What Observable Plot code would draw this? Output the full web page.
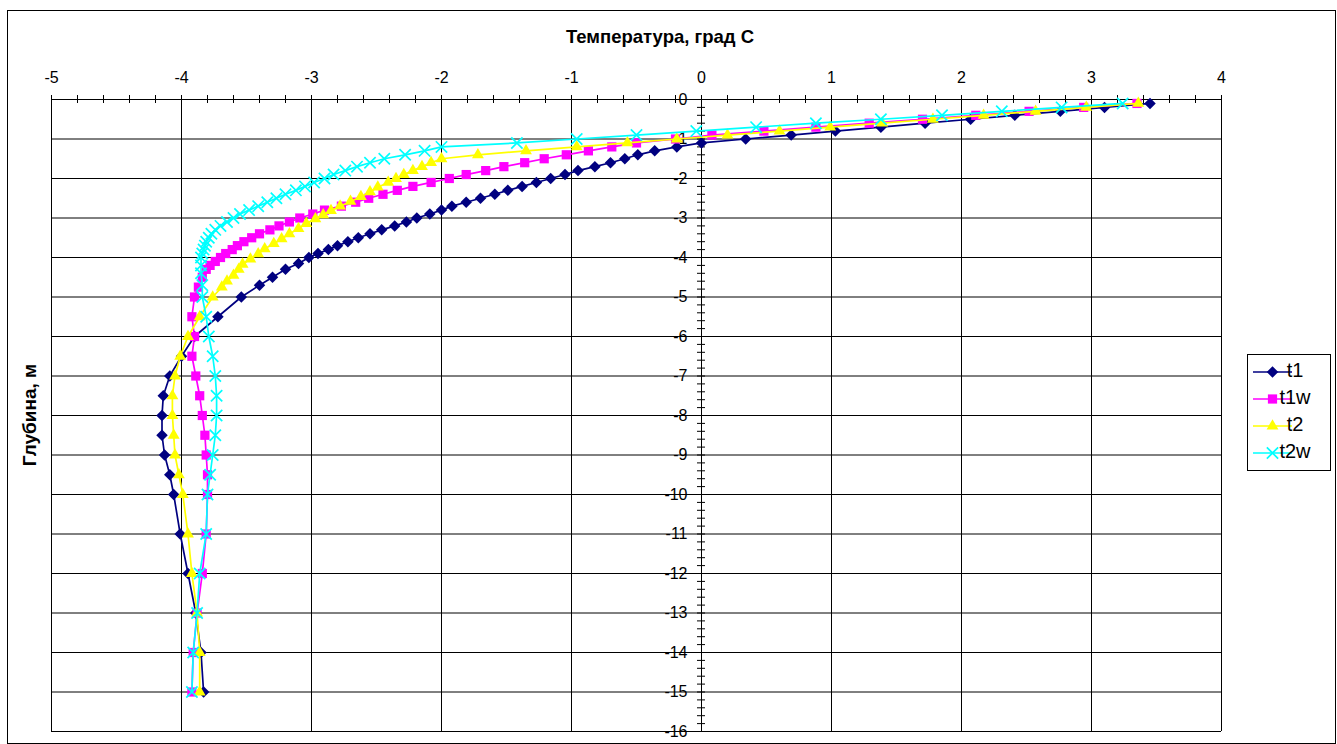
<!DOCTYPE html>
<html><head><meta charset="utf-8">
<script src="https://cdn.jsdelivr.net/npm/d3@7"></script>
<script src="https://cdn.jsdelivr.net/npm/@observablehq/plot@0.6"></script>
<style>
body{margin:0;background:#fff;}
#chart{position:relative;width:1337px;height:744px;}
</style>
</head><body><div id="chart"></div>
<script>
// ---- data ----
const xTickLabels = [-5,-4,-3,-2,-1,0,1,2,3,4];
const yTickLabels = [0,-1,-2,-3,-4,-5,-6,-7,-8,-9,-10,-11,-12,-13,-14,-15,-16];
const seriesNames = ["t1","t1w","t2","t2w"];

const t1Depth = [-0.1,-0.2,-0.3,-0.4,-0.5,-0.6,-0.7,-0.8,-0.9,-1.0,-1.1,-1.2,-1.3,-1.4,-1.5,-1.6,-1.7,-1.8,-1.9,-2.0,
  -2.1,-2.2,-2.3,-2.4,-2.5,-2.6,-2.7,-2.8,-2.9,-3.0,-3.1,-3.2,-3.3,-3.4,-3.5,-3.6,-3.7,-3.8,-3.9,-4.0,
  -4.15,-4.3,-4.5,-4.7,-5,-5.5,-6,-6.5,-7,-7.5,-8,-8.5,-9,-9.5,-10,-11,-12,-13,-14,-15];
const t1Temp = [3.45,3.10,2.76,2.41,2.07,1.72,1.38,1.03,0.69,0.34,0.00,-0.19,-0.36,-0.49,-0.59,-0.70,-0.82,-0.95,-1.05,-1.16,
  -1.27,-1.38,-1.49,-1.59,-1.70,-1.81,-1.92,-2.00,-2.09,-2.19,-2.27,-2.36,-2.46,-2.55,-2.64,-2.72,-2.80,-2.87,-2.95,-3.02,
  -3.10,-3.20,-3.30,-3.40,-3.54,-3.72,-3.90,-4.00,-4.09,-4.14,-4.15,-4.15,-4.13,-4.09,-4.06,-4.01,-3.95,-3.89,-3.85,-3.83];

const t1wDepth = [-0.1,-0.2,-0.3,-0.4,-0.5,-0.6,-0.7,-0.8,-0.9,-1.0,-1.1,-1.2,-1.3,-1.4,-1.5,-1.6,-1.7,-1.8,-1.9,-2.0,
  -2.1,-2.2,-2.3,-2.4,-2.5,-2.6,-2.7,-2.8,-2.9,-3.0,-3.1,-3.2,-3.3,-3.4,-3.5,-3.6,-3.7,-3.8,-3.9,-4.0,-4.1,-4.2,-4.3,
  -4.5,-4.75,-5,-5.5,-6,-6.5,-7,-7.5,-8,-8.5,-9,-9.5,-10,-11,-12,-13,-14,-15];
const t1wTemp = [3.35,2.94,2.52,2.11,1.70,1.29,0.88,0.48,0.08,-0.20,-0.50,-0.69,-0.87,-1.04,-1.21,-1.36,-1.52,-1.66,-1.81,-1.94,
  -2.08,-2.22,-2.34,-2.45,-2.56,-2.66,-2.77,-2.90,-2.99,-3.09,-3.17,-3.25,-3.32,-3.40,-3.46,-3.52,-3.57,-3.61,-3.66,-3.70,-3.74,-3.78,-3.81,
  -3.84,-3.87,-3.90,-3.92,-3.90,-3.92,-3.89,-3.86,-3.84,-3.82,-3.81,-3.80,-3.80,-3.81,-3.84,-3.88,-3.91,-3.92];

const t2Depth = [-0.1,-0.2,-0.3,-0.4,-0.5,-0.6,-0.7,-0.8,-0.9,-1.0,-1.1,-1.2,-1.3,-1.4,-1.5,-1.6,-1.7,-1.8,-1.9,-2.0,-2.1,
  -2.22,-2.34,-2.46,-2.58,-2.70,-2.81,-2.92,-3.02,-3.14,-3.27,-3.40,-3.53,-3.65,-3.78,-3.91,-4.04,-4.17,-4.3,-4.45,-4.6,-4.75,
  -5,-5.5,-6,-6.5,-7,-7.5,-8,-8.5,-9,-9.5,-10,-11,-12,-13,-14,-15];
const t2Temp = [3.36,2.96,2.57,2.17,1.78,1.39,0.99,0.60,0.20,-0.19,-0.57,-0.96,-1.35,-1.72,-2.00,-2.08,-2.15,-2.22,-2.29,-2.35,-2.41,
  -2.49,-2.55,-2.62,-2.70,-2.78,-2.85,-2.91,-2.97,-3.04,-3.10,-3.17,-3.23,-3.29,-3.36,-3.41,-3.47,-3.53,-3.56,-3.60,-3.65,-3.69,
  -3.76,-3.86,-3.95,-4.01,-4.05,-4.07,-4.07,-4.06,-4.05,-4.02,-3.99,-3.95,-3.92,-3.88,-3.86,-3.86];

const t2wDepth = [-0.1,-0.2,-0.3,-0.4,-0.5,-0.6,-0.7,-0.8,-0.9,-1.0,-1.1,-1.2,-1.3,-1.4,-1.5,-1.6,-1.7,-1.8,-1.9,-2.0,
  -2.1,-2.2,-2.3,-2.4,-2.5,-2.6,-2.7,-2.8,-2.9,-3.0,-3.1,-3.2,-3.3,-3.4,-3.5,-3.6,-3.7,-3.8,-3.9,-4.0,
  -4.2,-4.4,-4.7,-5,-5.5,-6,-6.5,-7,-7.5,-8,-8.5,-9,-9.5,-10,-11,-12,-13,-14,-15];
const t2wTemp = [3.24,2.77,2.31,1.85,1.38,0.88,0.42,-0.04,-0.50,-0.96,-1.42,-2.00,-2.13,-2.28,-2.44,-2.55,-2.65,-2.74,-2.83,-2.90,
  -2.98,-3.05,-3.12,-3.20,-3.27,-3.34,-3.41,-3.48,-3.55,-3.60,-3.65,-3.70,-3.74,-3.77,-3.79,-3.81,-3.82,-3.83,-3.84,-3.85,
  -3.85,-3.85,-3.84,-3.84,-3.81,-3.79,-3.76,-3.74,-3.73,-3.73,-3.74,-3.76,-3.78,-3.80,-3.81,-3.86,-3.88,-3.91,-3.92];

const titleText = "Температура, град С";
const yTitleText = "Глубина, м";

// ---- styling ----
const FONT = "'Liberation Sans', Arial, Helvetica, sans-serif";
const styles = [
  {name:"t1",  depth:t1Depth,  temp:t1Temp,  color:"#000080", symbol:"diamond2", r:5.2, filled:true},
  {name:"t1w", depth:t1wDepth, temp:t1wTemp, color:"#FF00FF", symbol:"square",   r:5.2, filled:true},
  {name:"t2",  depth:t2Depth,  temp:t2Temp,  color:"#FFFF00", symbol:"triangle", r:4.4, filled:true},
  {name:"t2w", depth:t2wDepth, temp:t2wTemp, color:"#00FFFF", symbol:"times",    r:5.2, filled:false}
];

const W = 1337, H = 744;
const mL = 51, mR = W - 1221, mT = 99, mB = H - 731;

const xMinor = d3.range(-25, 21).map(i => +(i * 0.2).toFixed(1));
const yMinor = d3.range(-80, 1).map(i => +(i * 0.2).toFixed(1));

const marks = [
  Plot.ruleX(xTickLabels, {x: d => d, stroke: "#000", strokeWidth: 1}),
  Plot.ruleY(yTickLabels, {y: d => d, stroke: "#000", strokeWidth: 1}),
  // axis crossing ticks
  Plot.ruleX(xMinor, {x: d => d, y1: () => 0, y2: () => 0, insetTop: -4, insetBottom: -4, stroke: "#000"}),
  Plot.ruleY(yMinor, {y: d => d, x1: () => 0, x2: () => 0, insetLeft: -4, insetRight: -4, stroke: "#000"}),
  // tick labels
  Plot.text(xTickLabels, {x: d => d, frameAnchor: "top", dy: -28, text: d => String(d), fontSize: 16, fill: "#000"}),
  Plot.text(yTickLabels, {x: () => 0, y: d => d, dx: -14, textAnchor: "end", text: d => String(d), fontSize: 16, fill: "#000"})
];

for (const s of styles) {
  const rows = s.depth.map((d, i) => ({depth: d, temp: s.temp[i]}));
  marks.push(Plot.line(rows, {x: "temp", y: "depth", stroke: s.color, strokeWidth: 1.7}));
  if (s.filled) {
    marks.push(Plot.dot(rows, {x: "temp", y: "depth", symbol: () => s.symbol, r: s.r, fill: s.color, stroke: "none"}));
  } else {
    marks.push(Plot.dot(rows, {x: "temp", y: "depth", symbol: () => s.symbol, r: s.r, fill: "none", stroke: s.color, strokeWidth: 1.7}));
  }
}

const svg = Plot.plot({
  width: W, height: H,
  marginLeft: mL, marginRight: mR, marginTop: mT, marginBottom: mB,
  x: {domain: [-5, 4], axis: null},
  y: {domain: [-16, 0], axis: null},
  symbol: {type: "identity"},
  style: {fontFamily: FONT, fontSize: "16px", background: "#fff", overflow: "visible"},
  marks
});

const sel = d3.select(svg);
// outer border
sel.append("rect").attr("x", 7.5).attr("y", 10.5).attr("width", 1328).attr("height", 733)
  .attr("fill", "none").attr("stroke", "#000").attr("stroke-width", 1);
// title
sel.append("text").attr("x", 660).attr("y", 38).attr("text-anchor", "middle").attr("dominant-baseline", "middle")
  .attr("font-family", FONT).attr("font-weight", "bold").attr("font-size", 18.5).text(titleText);
// y title
sel.append("text").attr("transform", "translate(31,415) rotate(-90)").attr("text-anchor", "middle")
  .attr("dominant-baseline", "middle").attr("font-family", FONT).attr("font-weight", "bold").attr("font-size", 19).text(yTitleText);

// legend
const lg = sel.append("g");
lg.append("rect").attr("x", 1247.5).attr("y", 354.5).attr("width", 83).attr("height", 116)
  .attr("fill", "#fff").attr("stroke", "#000");
const symMap = {diamond2: d3.symbolDiamond2, square: d3.symbolSquare, triangle: d3.symbolTriangle, times: d3.symbolTimes};
styles.forEach((s, i) => {
  const y = 372 + i * 27;
  lg.append("line").attr("x1", 1253).attr("x2", 1292).attr("y1", y).attr("y2", y)
    .attr("stroke", s.color).attr("stroke-width", 1.7);
  const p = lg.append("path").attr("transform", `translate(1272.5,${y})`)
    .attr("d", d3.symbol(symMap[s.symbol], Math.PI * s.r * s.r)());
  if (s.filled) p.attr("fill", s.color);
  else p.attr("fill", "none").attr("stroke", s.color).attr("stroke-width", 1.7);
  lg.append("text").attr("x", 1295).attr("y", y).attr("dominant-baseline", "middle")
    .attr("font-family", FONT).attr("font-size", 20).text(seriesNames[i]);
});

document.getElementById("chart").appendChild(svg);
</script>
</body></html>
